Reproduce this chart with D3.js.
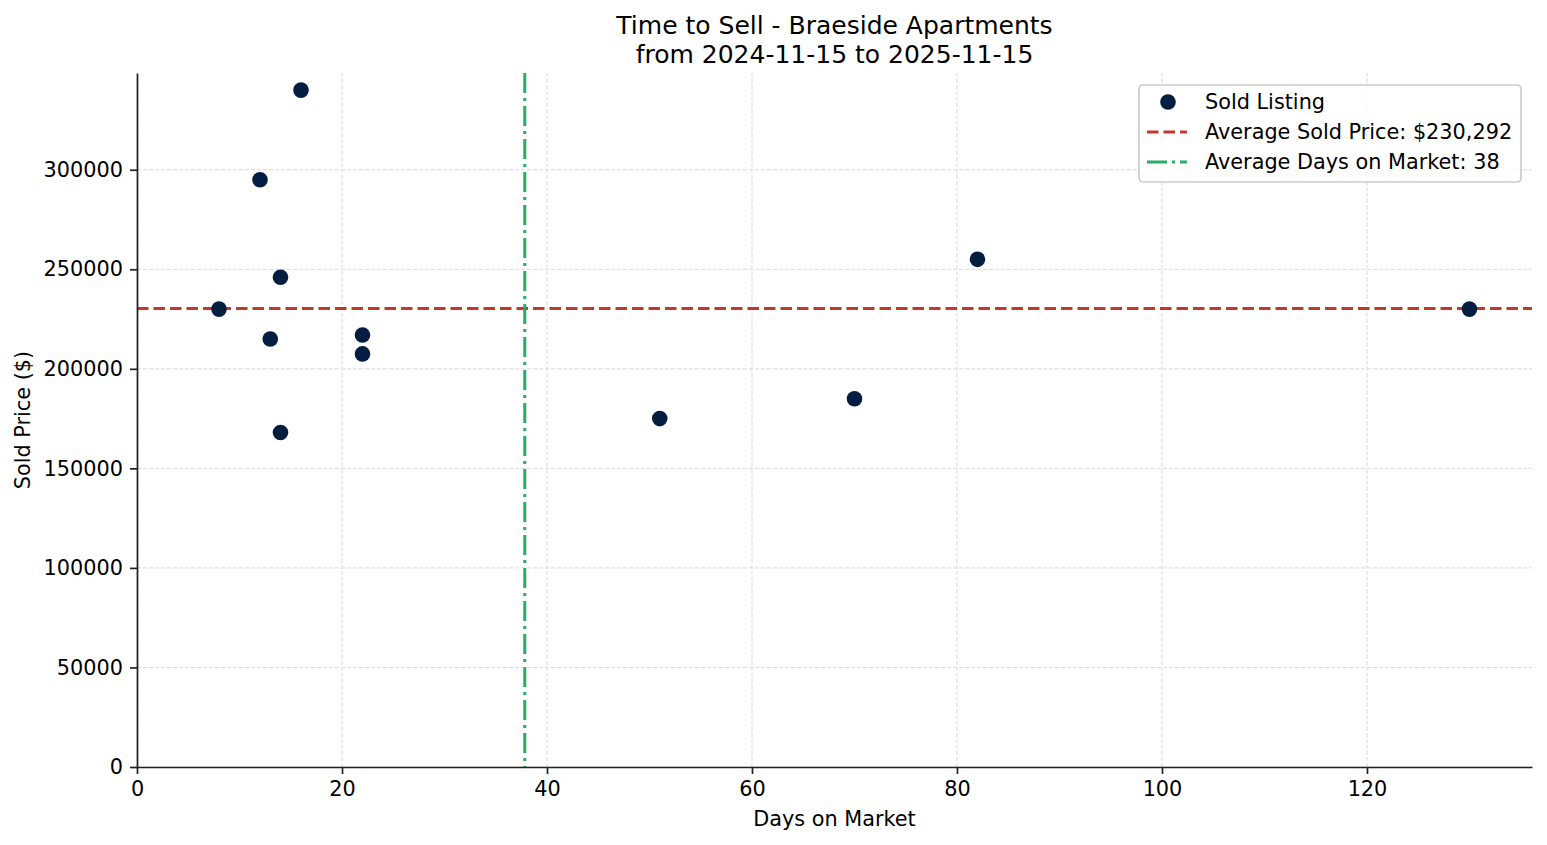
<!DOCTYPE html>
<html>
<head>
<meta charset="utf-8">
<script src="https://cdn.jsdelivr.net/npm/d3@7"></script>
<style>
  body { margin: 0; background: #fff; }
  text { font-family: "DejaVu Sans", sans-serif; fill: #000; }
</style>
</head>
<body>
<div id="scatter"></div>
<script>
// Sold listings
var daysOnMarket = [8, 12, 14, 13, 14, 16, 22, 22, 51, 70, 82, 130];
var soldPrice = [230000, 295000, 246000, 215000, 168000, 340000, 217000, 207500, 175000, 185000, 255000, 230000];
var xTicks = [0, 20, 40, 60, 80, 100, 120];
var yTicks = [0, 50000, 100000, 150000, 200000, 250000, 300000];
var titleLines = ["Time to Sell - Braeside Apartments", "from 2024-11-15 to 2025-11-15"];

// SVG area
var svgWidth = 1547;
var svgHeight = 845;

var margin = { top: 73, right: 15, bottom: 78, left: 137 };
var chartWidth = svgWidth - margin.left - margin.right;
var chartHeight = svgHeight - margin.top - margin.bottom;

var svg = d3.select("#scatter")
  .append("svg")
  .attr("width", svgWidth)
  .attr("height", svgHeight);

var chartGroup = svg.append("g")
  .attr("transform", `translate(${margin.left}, ${margin.top})`);

// build the rows
var data = daysOnMarket.map(function(d, i) {
  return { days: d, price: soldPrice[i] };
});

var avgPrice = d3.mean(data, d => d.price);
var avgDays = d3.mean(data, d => d.days);

// axes limits start at 0, with a 5% pad on the top end like matplotlib
var xExt = d3.extent(data, d => d.days);
var yExt = d3.extent(data, d => d.price);

var xScale = d3.scaleLinear()
  .range([0, chartWidth])
  .domain([0, xExt[1] + 0.05 * (xExt[1] - xExt[0])]);

var yScale = d3.scaleLinear()
  .range([chartHeight, 0])
  .domain([0, yExt[1] + 0.05 * (yExt[1] - yExt[0])]);

// grid lines
chartGroup.append("g")
  .selectAll("line")
  .data(xTicks)
  .enter()
  .append("line")
  .attr("x1", d => xScale(d))
  .attr("x2", d => xScale(d))
  .attr("y1", 0)
  .attr("y2", chartHeight)
  .attr("stroke", "#d9d9d9")
  .attr("stroke-width", 1)
  .attr("stroke-dasharray", "4,2");

chartGroup.append("g")
  .selectAll("line")
  .data(yTicks)
  .enter()
  .append("line")
  .attr("x1", 0)
  .attr("x2", chartWidth)
  .attr("y1", d => yScale(d))
  .attr("y2", d => yScale(d))
  .attr("stroke", "#d9d9d9")
  .attr("stroke-width", 1)
  .attr("stroke-dasharray", "4,2");

// average lines
chartGroup.append("line")
  .attr("x1", 0)
  .attr("x2", chartWidth)
  .attr("y1", yScale(avgPrice))
  .attr("y2", yScale(avgPrice))
  .attr("stroke", "#c0392b")
  .attr("stroke-width", 3)
  .attr("stroke-dasharray", "11.5,5");

chartGroup.append("line")
  .attr("x1", xScale(avgDays))
  .attr("x2", xScale(avgDays))
  .attr("y1", 0)
  .attr("y2", chartHeight)
  .attr("stroke", "#27ae60")
  .attr("stroke-width", 3)
  .attr("stroke-dasharray", "20,5,3,5");

// points
chartGroup.selectAll("circle")
  .data(data)
  .enter()
  .append("circle")
  .attr("cx", d => xScale(d.days))
  .attr("cy", d => yScale(d.price))
  .attr("r", 7.8)
  .attr("fill", "#041e42");

// axes
var bottomAxis = d3.axisBottom(xScale).tickValues(xTicks).tickSize(7).tickSizeOuter(0).tickPadding(7).tickFormat(d3.format("d"));
var leftAxis = d3.axisLeft(yScale).tickValues(yTicks).tickSize(7).tickSizeOuter(0).tickPadding(7).tickFormat(d3.format("d"));

var gx = chartGroup.append("g")
  .attr("transform", "translate(0, " + chartHeight + ")")
  .call(bottomAxis);

var gy = chartGroup.append("g")
  .call(leftAxis);

[gx, gy].forEach(function(g) {
  g.select(".domain").attr("stroke", "#222").attr("stroke-width", 1.7);
  g.selectAll(".tick line").attr("stroke", "#222").attr("stroke-width", 1.7);
  g.selectAll(".tick text")
    .attr("font-family", "DejaVu Sans")
    .attr("font-size", "20.8px")
    .attr("fill", "#000");
});

// titles and labels
svg.append("g")
  .selectAll("text")
  .data(titleLines)
  .enter()
  .append("text")
  .attr("x", margin.left + chartWidth / 2)
  .attr("y", (d, i) => 34 + i * 28.5)
  .attr("text-anchor", "middle")
  .attr("font-size", "25px")
  .text(d => d);

svg.append("text")
  .attr("x", margin.left + chartWidth / 2)
  .attr("y", 826)
  .attr("text-anchor", "middle")
  .attr("font-size", "20.8px")
  .text("Days on Market");

svg.append("text")
  .attr("transform", "translate(30, " + (margin.top + chartHeight / 2) + ") rotate(-90)")
  .attr("text-anchor", "middle")
  .attr("font-size", "20.8px")
  .text("Sold Price ($)");

// legend
var legendItems = [
  { label: "Sold Listing", kind: "dot" },
  { label: "Average Sold Price: $" + d3.format(",.0f")(avgPrice), kind: "price" },
  { label: "Average Days on Market: " + d3.format(".0f")(avgDays), kind: "days" }
];

var legend = svg.append("g")
  .attr("transform", "translate(1139, 85)");

legend.append("rect")
  .attr("x", 0)
  .attr("y", 0)
  .attr("width", 382)
  .attr("height", 97)
  .attr("rx", 4)
  .attr("fill", "#fff")
  .attr("fill-opacity", 0.8)
  .attr("stroke", "#cccccc")
  .attr("stroke-width", 1.7);

var rows = legend.selectAll(".row")
  .data(legendItems)
  .enter()
  .append("g")
  .attr("transform", (d, i) => `translate(0, ${17 + i * 30})`);

rows.filter(d => d.kind === "dot")
  .append("circle")
  .attr("cx", 29)
  .attr("cy", 0)
  .attr("r", 7.8)
  .attr("fill", "#041e42");

rows.filter(d => d.kind === "price")
  .append("line")
  .attr("x1", 8).attr("x2", 48)
  .attr("stroke", "#c0392b")
  .attr("stroke-width", 3)
  .attr("stroke-dasharray", "11.5,5");

rows.filter(d => d.kind === "days")
  .append("line")
  .attr("x1", 8).attr("x2", 48)
  .attr("stroke", "#27ae60")
  .attr("stroke-width", 3)
  .attr("stroke-dasharray", "20,5,3,5");

rows.append("text")
  .attr("x", 66)
  .attr("y", 7)
  .attr("font-size", "20.8px")
  .text(d => d.label);
</script>
</body>
</html>
